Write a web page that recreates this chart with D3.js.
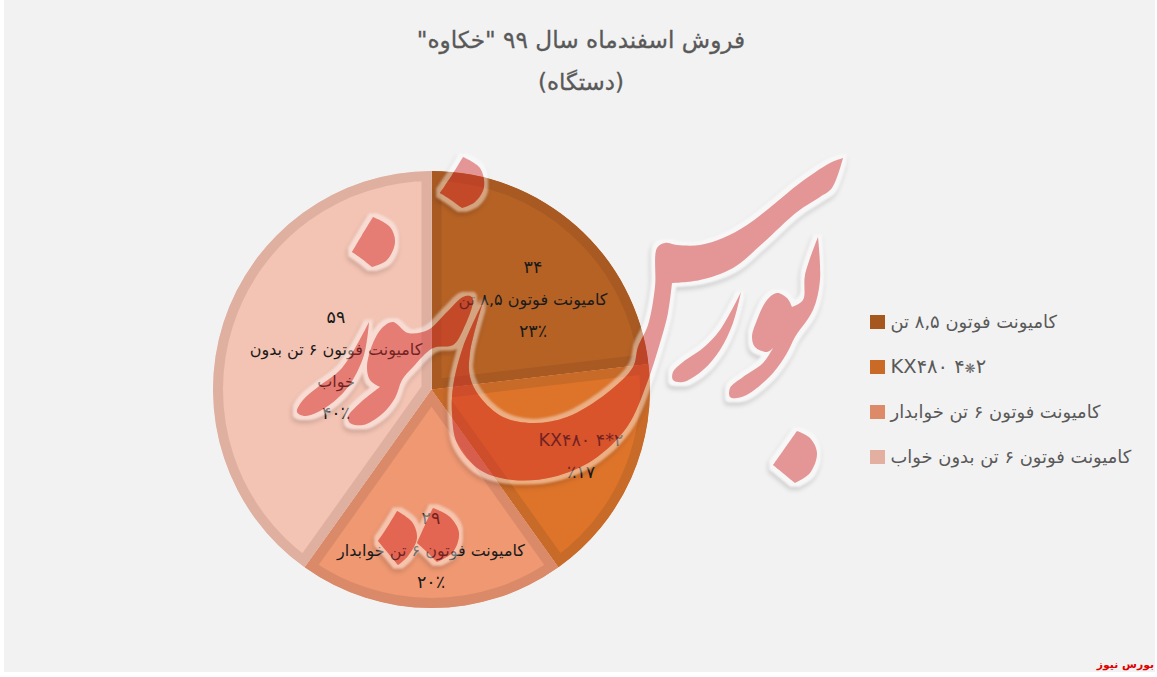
<!DOCTYPE html>
<html><head><meta charset="utf-8">
<script src="https://cdn.jsdelivr.net/npm/d3@7/dist/d3.min.js"></script>
<style>html,body{margin:0;padding:0;background:#fff;overflow:hidden}svg{display:block}
text{font-family:"DejaVu Sans",sans-serif}</style></head><body>
<svg id="c" width="1157" height="677"></svg>
<script>
const categories = ["کامیونت فوتون ۸,۵ تن","KX۴۸۰ ۴❋۲","کامیونت فوتون ۶ تن خوابدار","کامیونت فوتون ۶ تن بدون خواب"];
const values = [34,25,29,59];
const ringColors = ["#A85A22","#C86A28","#DA8A68","#DFB0A0"];
const fillColors = ["#B66225","#DE742A","#EF9872","#F3C3B3"];
const legendColors = ["#A5571E","#C96A27","#DC8A67","#E2AFA0"];
const labelLines = [
  ["۳۴","کامیونت فوتون ۸,۵ تن","۲۳٪"],
  ["KX۴۸۰ ۴*۲","٪۱۷"],
  ["۲۹","کامیونت فوتون ۶ تن خوابدار","۲۰٪"],
  ["۵۹","کامیونت فوتون ۶ تن بدون","خواب","۴۰٪"]
];
const labelCenters = [[533,300],[581,457],[431,551],[336,366]];
const titleText = 'فروش اسفندماه سال ۹۹ "خکاوه"';
const subtitleText = "(دستگاه)";
const footerText = "بورس نیوز";

const svg = d3.select("#c");
const defs = svg.append("defs");
svg.append("rect").attr("x",4).attr("y",0).attr("width",1151).attr("height",672).attr("fill","#F2F2F2");

svg.append("text").attr("x",581).attr("y",48).attr("text-anchor","middle").attr("direction","rtl")
  .attr("font-size",23.2).attr("fill","#595959").attr("stroke","#595959").attr("stroke-width",.3).text(titleText);
svg.append("text").attr("x",581).attr("y",90).attr("text-anchor","middle").attr("direction","rtl")
  .attr("font-size",23).attr("fill","#595959").attr("stroke","#595959").attr("stroke-width",.3).text(subtitleText);

const cx=431.5, cy=389.5, R=218.5;
const pie=d3.pie().sort(null).value(d=>d);
const arc=d3.arc().innerRadius(0).outerRadius(R);
const g=svg.append("g").attr("transform",`translate(${cx},${cy})`);
pie(values).forEach((d,i)=>{
  defs.append("clipPath").attr("id","s"+i).append("path").attr("d",arc(d));
  g.append("path").attr("d",arc(d)).attr("fill",fillColors[i]).attr("stroke",ringColors[i])
    .attr("stroke-width",20).attr("stroke-linejoin","miter").attr("clip-path",`url(#s${i})`);
});

labelLines.forEach((lines,i)=>{
  const [x,y]=labelCenters[i], lh=32;
  lines.forEach((t,j)=>{
    const big=/^[A-Z]/.test(t)||/^[٪۰-۹]+$/.test(t);
    svg.append("text").attr("x",x).attr("y",y+(j-(lines.length-1)/2)*lh+5)
      .attr("text-anchor","middle").attr("direction",/^[A-Z]/.test(t)?"ltr":"rtl")
      .attr("font-size",big?17.5:16).attr("fill","#1a1a1a").text(t);
  });
});

const ly=d3.scalePoint().domain(categories).range([322,457]);
categories.forEach((c,i)=>{
  svg.append("rect").attr("x",870).attr("y",ly(c)-7).attr("width",15).attr("height",14).attr("fill",legendColors[i]);
  const isL=/^[A-Z]/.test(c);
  const t=svg.append("text").attr("x",890.5).attr("y",ly(c)+6).attr("direction",isL?"ltr":"rtl")
    .attr("text-anchor",isL?"start":"end").attr("font-size",isL?19.5:17.9).attr("fill","#595959");
  c.split("❋").forEach((p,k)=>{
    if(k>0) t.append("tspan").attr("font-size",13).attr("fill","#6a6a6a").text("❋");
    t.append("tspan").text(p);
  });
});

svg.append("text").attr("x",1154).attr("y",668).attr("direction","rtl").attr("text-anchor","start")
  .attr("font-size",10.8).attr("font-weight","bold").attr("fill","#E00000").text(footerText);

// Watermark logo
const f=defs.append("filter").attr("id","wm").attr("x","-20%").attr("y","-20%").attr("width","140%").attr("height","140%")
  .attr("color-interpolation-filters","sRGB");
f.append("feMorphology").attr("in","SourceAlpha").attr("operator","dilate").attr("radius",3.5).attr("result","d0");
f.append("feGaussianBlur").attr("in","d0").attr("stdDeviation",.9).attr("result","dil");
f.append("feFlood").attr("flood-color","#fff").attr("flood-opacity",.42).attr("result","w");
f.append("feComposite").attr("in","w").attr("in2","dil").attr("operator","in").attr("result","w1");
f.append("feComposite").attr("in","w1").attr("in2","SourceAlpha").attr("operator","out").attr("result","halo");
f.append("feOffset").attr("in","dil").attr("dx",-1).attr("dy",3).attr("result","o");
f.append("feGaussianBlur").attr("in","o").attr("stdDeviation",2).attr("result","ob");
f.append("feFlood").attr("flood-color","#000").attr("flood-opacity",.16).attr("result","k");
f.append("feComposite").attr("in","k").attr("in2","ob").attr("operator","in").attr("result","k1");
f.append("feComposite").attr("in","k1").attr("in2","dil").attr("operator","out").attr("result","sh");
const ct=f.append("feComponentTransfer").attr("in","SourceGraphic").attr("result","body");
ct.append("feFuncA").attr("type","linear").attr("slope",.47);
const m=f.append("feMerge");["sh","halo","body"].forEach(n=>m.append("feMergeNode").attr("in",n));

// third element 1 marks a sharp corner of the logo outline
const wmShapes=[
 [[843,158,1],[830,163],[800,183],[773,205],[747,225],[723,238],[700,245],[677,245],[665,243],[657,248],[655,287],[648,325],[638,347],[633,367],[607,393],[567,417],[533,423],[503,417],[480,397],[470,377],[470,353],[483,302,1],[463,347],[453,387],[452,413],[457,443],[480,470],[513,480],[553,477],[593,460],[627,427],[647,383],[660,343],[668,313],[672,283,1],[700,280],[733,268],[763,243],[797,212],[820,197],[832,188]],
 [[741,292,1],[733,323],[720,350],[703,370],[683,382],[673,380],[673,372],[683,362],[703,348],[720,330]],
 [[818,237,1],[820,280],[813,310],[795,337],[787,353],[773,373],[750,393],[737,398],[730,397],[730,388],[743,377],[763,363],[773,348,1],[767,352],[755,347],[752,337],[757,320],[767,300],[777,293],[787,298],[792,307,1],[803,300],[805,275]],
 [[797,431,1],[810,438],[817,453],[810,473],[795,483,1],[784,474],[773,465,1],[785,448]],
 [[463,157,1],[480,168],[484,187],[475,202],[462,208,1],[451,200],[440,193,1],[452,175]],
 [[373,217,1],[390,227],[395,242],[387,260],[372,267,1],[362,259],[352,252,1],[362,235]],
 [[397,511,1],[412,522],[417,538],[408,556],[398,565,1],[388,553],[378,541,1],[388,526]],
 [[433,508,1],[450,517],[459,533],[453,552],[437,562,1],[427,552],[417,543,1],[425,525]],
 [[369,322,1],[364,355],[348,387],[325,408],[305,416],[297,412],[303,400],[318,387],[342,368]],
 [[393,322],[408,333],[428,330],[447,312],[463,297],[470,296],[473,300],[463,330],[453,345],[433,348],[413,367],[402,380],[395,398],[382,414],[363,425],[350,423],[348,417],[360,403],[380,387,1],[370,380],[367,367],[373,343],[383,327]]
];
const wl=d3.line().curve(d3.curveCatmullRomClosed.alpha(.5));
const wg=svg.append("g").attr("filter","url(#wm)");
wmShapes.forEach(s=>wg.append("path").attr("d",wl(s.flatMap(p=>p[2]?[p,p]:[p]))).attr("fill","#D52E2E"));
</script></body></html>
